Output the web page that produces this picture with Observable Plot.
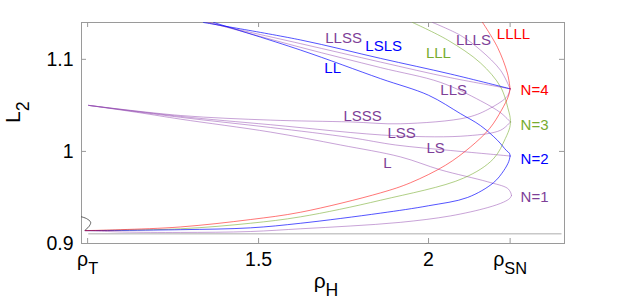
<!DOCTYPE html>
<html><head><meta charset="utf-8">
<script src="https://cdn.jsdelivr.net/npm/d3@7"></script>
<script src="https://cdn.jsdelivr.net/npm/@observablehq/plot@0.6"></script>
<style>body{margin:0;background:#fff}</style>
</head><body><div id="chart"></div>
<script>
// ---- data: [rho_H, L2] ----
const xTicks = [0.997, 1.5, 2, 2.24];
const xTickLabels = ["ρ_T", "1.5", "2", "ρ_SN"];
const yTicks = [0.9, 1, 1.1];
const yTickLabels = ["0.9", "1", "1.1"];

const lowerN1 = [[0.99,0.914],[1.1,0.9125],[1.27,0.912],[1.476,0.913],[1.624,0.916],[1.77,0.919],[1.918,0.923],[2.065,0.930],[2.174,0.939],[2.221,0.945],[2.239,0.949],[2.244,0.952]];
const lowerN2 = [[0.99,0.914],[1.271,0.915],[1.476,0.917],[1.624,0.922],[1.859,0.933],[2.0,0.941],[2.115,0.950],[2.191,0.966],[2.221,0.979],[2.236,0.989],[2.24,0.995]];
const lowerN3 = [[0.99,0.914],[1.271,0.916],[1.476,0.922],[1.624,0.929],[1.859,0.947],[2.103,0.971],[2.191,0.992],[2.226,1.014],[2.239,1.026],[2.241,1.032]];
const lowerN4 = [[0.99,0.914],[1.094,0.915],[1.271,0.918],[1.476,0.926],[1.624,0.934],[1.859,0.955],[1.947,0.966],[2.05,0.985],[2.124,1.005],[2.18,1.025],[2.215,1.045],[2.235,1.060],[2.24,1.068]];

const brL    = [[1.0,1.05],[1.15,1.042],[1.271,1.035],[1.535,1.021],[1.741,1.007],[1.918,0.994],[2.035,0.980],[2.174,0.967],[2.232,0.960],[2.242,0.955],[2.244,0.952]];
const brLS   = [[1.0,1.05],[1.271,1.037],[1.535,1.026],[1.771,1.015],[1.903,1.007],[2.065,1.001],[2.182,0.997],[2.24,0.995]];
const brLL   = [[1.368,1.14],[1.624,1.11],[1.859,1.079],[2.0,1.061],[2.094,1.041],[2.153,1.028],[2.203,1.012],[2.229,1.001],[2.238,0.998],[2.24,0.995]];
const brLSS  = [[1.0,1.05],[1.271,1.038],[1.535,1.029],[1.903,1.017],[2.115,1.017],[2.212,1.023],[2.241,1.032]];
const brLLS  = [[1.356,1.14],[1.624,1.113],[1.859,1.091],[2.035,1.075],[2.153,1.055],[2.212,1.042],[2.241,1.032]];
const brLLL  = [[1.953,1.14],[2.056,1.121],[2.153,1.096],[2.212,1.070],[2.235,1.045],[2.240,1.037],[2.241,1.032]];
const brLSSS = [[1.0,1.05],[1.271,1.039],[1.535,1.034],[1.771,1.032],[1.918,1.030],[2.115,1.037],[2.182,1.047],[2.232,1.060],[2.24,1.068]];
const brLLSS = [[1.347,1.14],[1.624,1.117],[1.859,1.097],[2.065,1.080],[2.24,1.068]];
const brLSLS = [[1.338,1.14],[1.624,1.121],[1.859,1.101],[2.065,1.084],[2.24,1.068]];
const brLLLS = [[2.012,1.14],[2.094,1.126],[2.153,1.110],[2.212,1.088],[2.24,1.068]];
const brLLLL = [[2.159,1.14],[2.203,1.113],[2.232,1.085],[2.24,1.068]];

const baseLine = [[1.0,0.9105],[2.39,0.9105]];
const squiggle = [[0.979,0.929],[0.994,0.927],[1.006,0.923],[1.0,0.918],[0.991,0.915],[0.99,0.914]];

const labelText = ["LLSS","LSLS","LL","LLL","LLLS","LLLL","LLS","LSSS","LSS","LS","L","N=4","N=3","N=2","N=1"];
const labelRho  = [1.750,1.868,1.718,2.029,2.132,2.250,2.074,1.806,1.921,2.021,1.879,2.312,2.312,2.312,2.312];
const labelL    = [1.123,1.114,1.090,1.107,1.121,1.127,1.066,1.038,1.020,1.003,0.987,1.067,1.029,0.992,0.950];

// ---- styles ----
const C = {
  purple: {line: "#8e44ad", op: 0.55, text: "#7e3f98"},
  blue:   {line: "#0000ff", op: 0.75, text: "#0000ff"},
  green:  {line: "#77ac30", op: 0.65, text: "#77ac30"},
  red:    {line: "#ff0000", op: 0.6, text: "#ff0000"}
};
const series = [
  [lowerN1,"purple"],[brL,"purple"],[brLS,"purple"],[brLSS,"purple"],[brLSSS,"purple"],
  [brLLS,"purple"],[brLLSS,"purple"],[brLLLS,"purple"],
  [lowerN3,"green"],[brLLL,"green"],
  [lowerN2,"blue"],[brLL,"blue"],[brLSLS,"blue"],
  [lowerN4,"red"],[brLLLL,"red"]
];
const labelColour = {"LLSS":"purple","LSLS":"blue","LL":"blue","LLL":"green","LLLS":"purple","LLLL":"red","LLS":"purple","LSSS":"purple","LSS":"purple","LS":"purple","L":"purple","N=4":"red","N=3":"green","N=2":"blue","N=1":"purple"};

const W = 623, H = 301, mL = 81, mR = 59, mT = 22, mB = 58;
const frameW = W - mL - mR, frameH = H - mT - mB, tk = 5;
const axisGrey = "#9a9a9a";

const marks = [
  Plot.frame({stroke: axisGrey}),
  Plot.tickX(xTicks, {x: d => d, insetTop: frameH - tk, stroke: axisGrey}),
  Plot.tickX(xTicks, {x: d => d, insetBottom: frameH - tk, stroke: axisGrey}),
  Plot.tickY(yTicks, {y: d => d, insetRight: frameW - tk, stroke: axisGrey}),
  Plot.tickY(yTicks, {y: d => d, insetLeft: frameW - tk, stroke: axisGrey}),
  Plot.line(baseLine, {x: d => d[0], y: d => d[1], stroke: "#555", strokeOpacity: 0.55, strokeWidth: 0.9}),
  Plot.line(squiggle, {x: d => d[0], y: d => d[1], stroke: "#333", strokeOpacity: 0.85, strokeWidth: 0.9, curve: "catmull-rom", clip: true}),
  ...series.map(([pts, c]) => Plot.line(pts, {x: d => d[0], y: d => d[1], stroke: C[c].line, strokeOpacity: C[c].op, strokeWidth: 0.9, curve: "catmull-rom", clip: true})),
  Plot.text(labelText, {x: (d, i) => labelRho[i], y: (d, i) => labelL[i], text: d => d, fill: d => C[labelColour[d]].text, fontSize: 15}),
  Plot.text(xTicks, {x: d => d, text: (d, i) => xTickLabels[i], frameAnchor: "bottom", dy: 22, fontSize: 19.5, fill: "#000"}),
  Plot.text(yTicks, {y: d => d, text: (d, i) => yTickLabels[i], frameAnchor: "left", dx: -8, textAnchor: "end", fontSize: 19.5, fill: "#000"}),
  Plot.text(["ρ_H"], {text: d => d, frameAnchor: "bottom", dy: 44, dx: 3, fontSize: 21, fill: "#000"}),
  Plot.text(["L_2"], {text: d => d, frameAnchor: "left", dx: -68, dy: -10, rotate: -90, fontSize: 21, fill: "#000"})
];

const svg = Plot.plot({
  width: W, height: H,
  marginLeft: mL, marginRight: mR, marginTop: mT, marginBottom: mB,
  x: {domain: [0.979, 2.4], axis: null},
  y: {domain: [0.9, 1.14], axis: null},
  style: {fontFamily: "'Liberation Sans', Arial, sans-serif", background: "#fff", overflow: "visible"},
  marks
});

// subscripts
svg.querySelectorAll("text").forEach(t => {
  const s = t.textContent;
  if (s.includes("_")) {
    const [a, b] = s.split("_");
    t.textContent = a;
    const ts = document.createElementNS("http://www.w3.org/2000/svg", "tspan");
    ts.setAttribute("font-size", "0.84em");
    ts.setAttribute("dy", "0.5em");
    ts.textContent = b;
    t.appendChild(ts);
  }
});
document.getElementById("chart").appendChild(svg);
</script>
</body></html>
